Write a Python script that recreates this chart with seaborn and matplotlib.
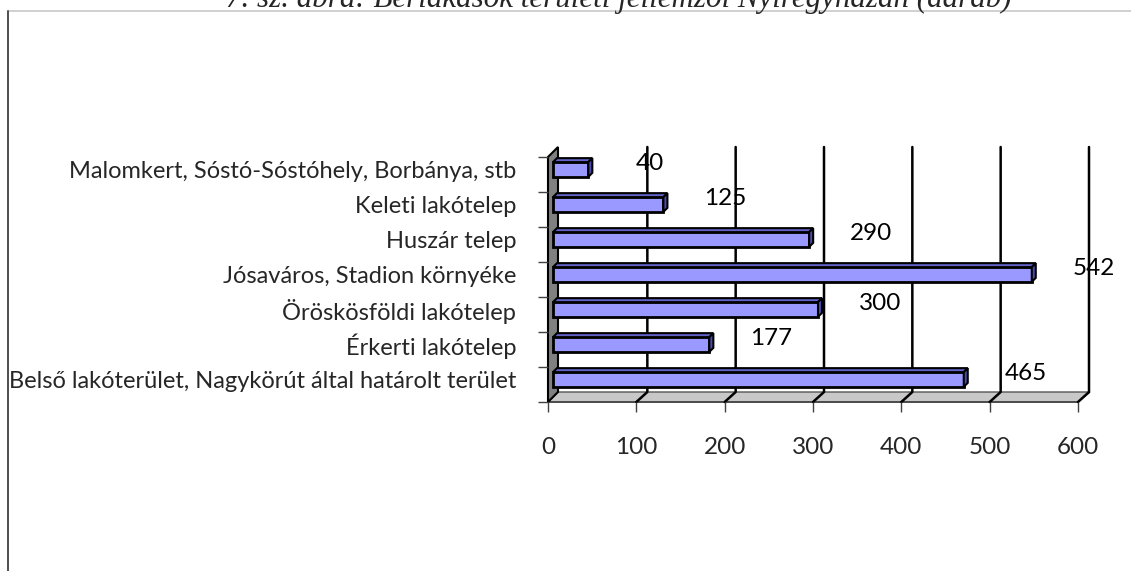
import matplotlib
matplotlib.use("Agg")
import matplotlib.pyplot as plt
import seaborn as sns
import pandas as pd
from matplotlib.patches import Polygon
from matplotlib.transforms import ScaledTranslation, IdentityTransform
from matplotlib.lines import Line2D

# ---------------- data ----------------
categories = [
    "Malomkert, Sóstó-Sóstóhely, Borbánya, stb",
    "Keleti lakótelep",
    "Huszár telep",
    "Jósaváros, Stadion környéke",
    "Öröskösföldi lakótelep",
    "Érkerti lakótelep",
    "Belső lakóterület, Nagykörút által határolt terület",
]
values = [40, 125, 290, 542, 300, 177, 465]
x_ticks = [0, 100, 200, 300, 400, 500, 600]
title = "7. sz. ábra: Bérlakások területi jellemzői Nyíregyházán (darab)"

# ---------------- style ----------------
sns.set_theme(style="white")
plt.rcParams["font.family"] = ["Lato", "DejaVu Sans"]

W, H, DPI = 1131, 571, 100
fig = plt.figure(figsize=(W / DPI, H / DPI), dpi=DPI)
fig.patch.set_facecolor("white")

# front plane of the 3-D plot (pixel coords from top-left)
L, R, T, B = 548, 1078, 157, 402
ax = fig.add_axes([L / W, 1 - B / H, (R - L) / W, (B - T) / H])
ax.patch.set_alpha(0)
ax.set_zorder(4)

df = pd.DataFrame({"cat": categories, "val": values})
sns.barplot(data=df, x="val", y="cat", orient="h", color="#9999ff",
            saturation=1, edgecolor="black", linewidth=2.0, width=0.42,
            ax=ax, zorder=5)
ax.set_xlim(0, 600)
ax.set_ylim(len(categories) - 0.5, -0.5)
for s in ax.spines.values():
    s.set_visible(False)
ax.set_xlabel("")
ax.set_ylabel("")

# ticks
ax.set_xticks(x_ticks)
ax.set_xticklabels([str(v) for v in x_ticks], fontsize=17.5)
ax.tick_params(axis="x", length=7, width=1, color="#404040", pad=18, bottom=True)
ax.set_yticks(range(len(categories)))
ax.set_yticklabels(categories, fontsize=14.5)
ax.tick_params(axis="y", length=0, pad=23, left=False)
ax.set_yticks([i - 0.5 for i in range(len(categories) + 1)], minor=True)
ax.tick_params(axis="y", which="minor", length=7, width=1, color="#404040", left=True)
shift_up = ScaledTranslation(0, 5 / DPI, fig.dpi_scale_trans)
for lab in ax.get_yticklabels():
    lab.set_transform(lab.get_transform() + shift_up)

fig.canvas.draw()

# fit category labels: longest ~507 px wide
longest = max(ax.get_yticklabels(), key=lambda t: t.get_window_extent().width)
w = longest.get_window_extent().width
fs = 14.5 * 507 / w
for lab in ax.get_yticklabels():
    lab.set_fontsize(fs)

# ---------------- 3-D decoration in display coords ----------------
to_disp = ax.transData.transform
D = 10  # wall depth in px
ident = IdentityTransform()

(x0, yb), = to_disp([(0, len(categories) - 0.5)])
(x6, yt), = to_disp([(600, -0.5)])

# floor
floor = Polygon([(x0, yb), (x6, yb), (x6 + D + 2, yb + D), (x0 + D, yb + D)],
                closed=True, facecolor="#c8c8c8", edgecolor="#555555",
                linewidth=1.0, transform=ident, zorder=1)
fig.patches.append(floor)
fig.add_artist(Line2D([x0, x6], [yb, yb], color="#444444", lw=1.2, transform=ident, zorder=2))

# back gridlines (with diagonal down to front)
for v in x_ticks[1:]:
    (xv, _), = to_disp([(v, 0)])
    fig.add_artist(Line2D([xv + D + 1, xv + D + 1, xv], [yt + D, yb + D, yb],
                          color="black", lw=1.8, transform=ident, zorder=2))

# left wall
wall = Polygon([(x0, yb), (x0, yt), (x0 + D, yt + D), (x0 + D, yb + D)],
               closed=True, facecolor="#808080", edgecolor="black",
               linewidth=1.5, transform=ident, zorder=3)
fig.patches.append(wall)

# bars: shift to mid-depth and add top / side faces
bd = 4
off = ScaledTranslation(5 / DPI, 5 / DPI, fig.dpi_scale_trans)
bars = [p for p in ax.patches][:len(values)]
for p, v in zip(bars, values):
    bb = p.get_window_extent()
    p.set_transform(ax.transData + off)
    bx0, by0, bx1, by1 = bb.x0 + 5, bb.y0 + 5, bb.x1 + 5, bb.y1 + 5
    top = Polygon([(bx0, by1), (bx1, by1), (bx1 + bd, by1 + bd), (bx0 + bd, by1 + bd)],
                  closed=True, facecolor="#6262c8", edgecolor="black",
                  linewidth=1.5, transform=ident, zorder=6)
    side = Polygon([(bx1, by0), (bx1, by1), (bx1 + bd, by1 + bd), (bx1 + bd, by0 + bd)],
                   closed=True, facecolor="#4c4cb0", edgecolor="black",
                   linewidth=1.5, transform=ident, zorder=6)
    fig.patches.append(top)
    fig.patches.append(side)
    ax.annotate(str(v), xy=(v, p.get_y() + p.get_height() / 2),
                xytext=(62 + 5, 6 + 5), textcoords="offset pixels",
                ha="center", va="center", fontsize=17.5, color="black", zorder=7)

# ---------------- frame and title ----------------
fig.add_artist(Line2D([8 / W, 1], [1 - 11 / H, 1 - 11 / H], color="#c8c8c8", lw=1.2,
                      transform=fig.transFigure))
fig.add_artist(Line2D([8 / W, 8 / W], [0, 1 - 11 / H], color="#404040", lw=1.3,
                      transform=fig.transFigure))
t = fig.text(619 / W, 1 - 7 / H, title, ha="center", va="baseline",
             fontsize=22, fontstyle="italic", family=["Liberation Serif", "DejaVu Serif"])
fig.canvas.draw()
tw = t.get_window_extent().width
t.set_fontsize(22 * 785 / tw)

fig.savefig("out.png", dpi=DPI, facecolor="white")
